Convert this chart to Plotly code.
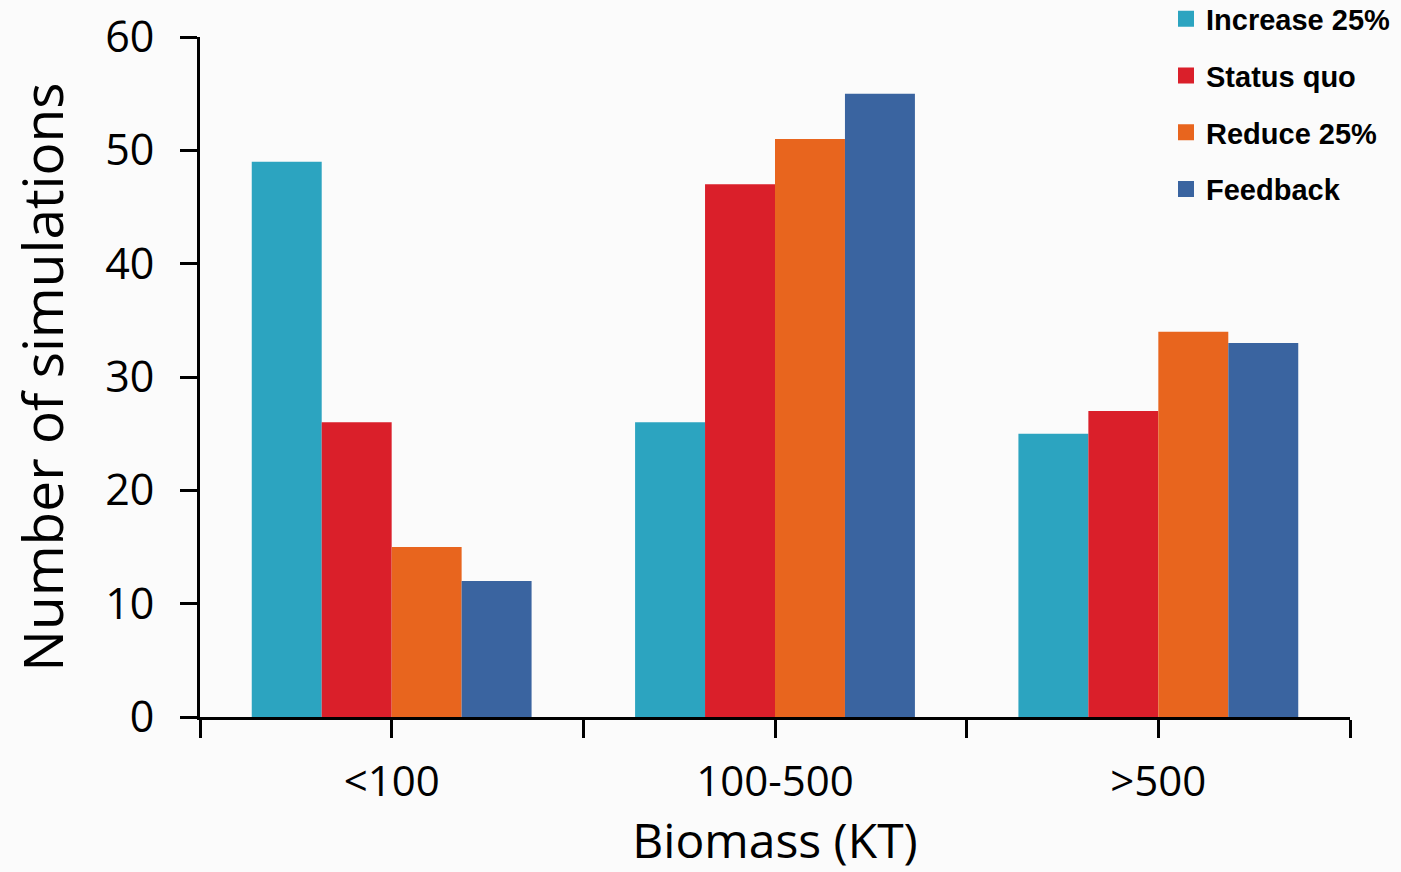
import plotly.graph_objects as go

categories = ["<100", "100-500", ">500"]
series_names = ["Increase 25%", "Status quo", "Reduce 25%", "Feedback"]
increase_25 = [49, 26, 25]
status_quo = [26, 47, 27]
reduce_25 = [15, 51, 34]
feedback = [12, 55, 33]
colors = ["#2CA4C0", "#DA1F2A", "#E8651E", "#3A64A0"]

series_values = [increase_25, status_quo, reduce_25, feedback]
xpos = list(range(len(categories)))

fig = go.Figure()
for name, vals, col in zip(series_names, series_values, colors):
    fig.add_trace(go.Bar(x=xpos, y=vals, name=name, marker=dict(color=col, line=dict(width=0)),
                         showlegend=False))
for i, (name, col) in enumerate(zip(series_names, colors)):
    fig.add_trace(go.Scatter(x=[None], y=[None], mode="markers", name=name,
                             marker=dict(symbol="square", size=20, color=col),
                             legendgroup=f"g{i}", showlegend=True))

tickvals = []
ticktext = []
for i, c in enumerate(categories):
    tickvals += [i - 0.5, i]
    ticktext += ["", c]
tickvals.append(len(categories) - 0.5)
ticktext.append("")

fig.update_layout(
    width=1401, height=872,
    margin=dict(l=200, r=51, t=37, b=155, autoexpand=False),
    paper_bgcolor="#fbfbfb", plot_bgcolor="rgba(0,0,0,0)",
    barmode="group", bargap=0.27, bargroupgap=0,
    font=dict(family="Open Sans", color="black"),
    xaxis=dict(range=[-0.5, len(categories) - 0.5], tickmode="array", tickvals=tickvals,
               ticktext=ticktext, ticks="outside", ticklen=18, tickwidth=3, tickcolor="black",
               showline=True, linewidth=3, linecolor="black", showgrid=False, zeroline=False,
               tickfont=dict(size=42), ticklabelstandoff=8,
               title=dict(text="Biomass (KT)", font=dict(size=48), standoff=10)),
    yaxis=dict(range=[0, 60], dtick=10, ticks="outside", ticklen=17, tickwidth=3, tickcolor="black",
               showline=True, linewidth=3, linecolor="black", showgrid=False, zeroline=False,
               tickfont=dict(size=43), ticklabelstandoff=17,
               title=dict(text="Number of simulations", font=dict(size=55), standoff=24)),
    legend=dict(xref="paper", yref="paper", x=0.84, y=1.064, xanchor="left", yanchor="top",
                bgcolor="rgba(0,0,0,0)",
                font=dict(family="Liberation Sans", size=29, color="black", weight="bold"),
                tracegroupgap=16, itemsizing="trace"),
)

fig.write_html("out.html")
